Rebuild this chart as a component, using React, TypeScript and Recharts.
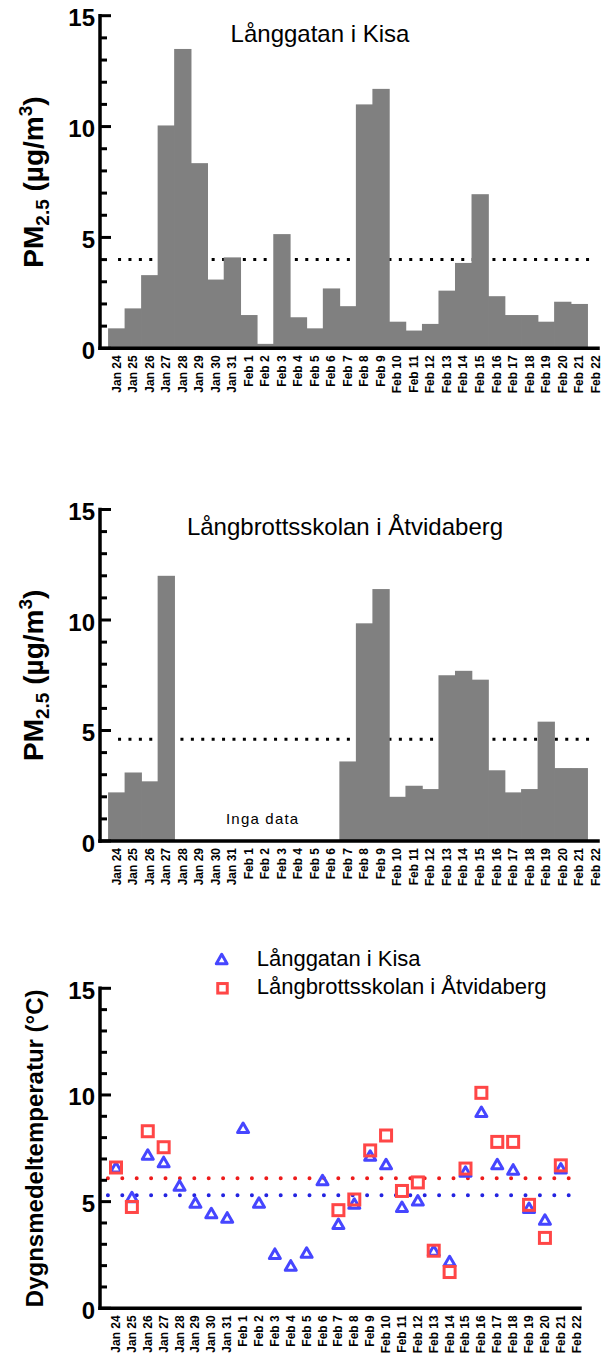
import React from 'react';
import { ComposedChart, Bar, LineChart, Line, XAxis, YAxis, ReferenceLine } from 'recharts';

const FONT = '"Liberation Sans", Arial, Helvetica, sans-serif';

// dates on the x axis (Feb 22 has no value, only a label)
const dates = [
  'Jan 24', 'Jan 25', 'Jan 26', 'Jan 27', 'Jan 28', 'Jan 29', 'Jan 30', 'Jan 31',
  'Feb 1', 'Feb 2', 'Feb 3', 'Feb 4', 'Feb 5', 'Feb 6', 'Feb 7', 'Feb 8', 'Feb 9',
  'Feb 10', 'Feb 11', 'Feb 12', 'Feb 13', 'Feb 14', 'Feb 15', 'Feb 16', 'Feb 17',
  'Feb 18', 'Feb 19', 'Feb 20', 'Feb 21', 'Feb 22',
];

// PM2.5 daily means (µg/m3)
const kisaPm = [
  0.9, 1.8, 3.3, 10.05, 13.5, 8.35, 3.1, 4.1,
  1.5, 0.2, 5.15, 1.4, 0.9, 2.7, 1.9, 11.0, 11.7, 1.2,
  0.8, 1.1, 2.6, 3.85, 6.95, 2.35, 1.5, 1.5, 1.2, 2.1, 2.0, null,
];
const atvPm = [
  2.2, 3.1, 2.7, 12.0, null, null, null, null,
  null, null, null, null, null, null, 3.6, 9.85, 11.4, 2.0,
  2.5, 2.35, 7.5, 7.7, 7.3, 3.2, 2.2, 2.35, 5.4, 3.3, 3.3, null,
];

// daily mean temperature (°C)
const kisaTemp = [
  6.6, 5.2, 7.2, 6.85, 5.75, 4.95, 4.45, 4.25,
  8.45, 4.95, 2.55, 2.0, 2.6, 6.0, 3.95, 4.9, 7.15, 6.75,
  4.75, 5.05, 2.7, 2.2, 6.4, 9.2, 6.75, 6.5, 4.7, 4.15, 6.55, null,
];
const atvTemp = [
  6.6, 4.75, 8.3, 7.55, null, null, null, null,
  null, null, null, null, null, null, 4.6, 5.1, 7.4, 8.1,
  5.5, 5.9, 2.7, 1.7, 6.55, 10.1, 7.8, 7.8, 4.85, 3.3, 6.7, null,
];

// dotted levels
const kisaPmLevel = 4.0;
const atvPmLevel = 4.6;
const kisaTempMean = 5.3;
const atvTempMean = 6.1;

const yTicks = [0, 1, 2, 3, 4, 5, 6, 7, 8, 9, 10, 11, 12, 13, 14, 15];

const kisaPmData = dates.map((d, i) => ({ date: d, pm: kisaPm[i], level: kisaPmLevel }));
const atvPmData = dates.map((d, i) => ({ date: d, pm: atvPm[i], level: atvPmLevel }));
const tempData = dates.map((d, i) => ({ date: d, kisa: kisaTemp[i], atv: atvTemp[i] }));

const BLUE = '#4646ff';
const RED = '#ff4646';
const BAND = 16.52;

const XTick = (props: any) => {
  const { x, y, payload } = props;
  return (
    <text
      x={x}
      y={y}
      transform={`rotate(-90 ${x} ${y})`}
      textAnchor="end"
      dominantBaseline="central"
      fontSize={12}
      fontWeight="bold"
      fontFamily={FONT}
      fill="#000"
    >
      {payload.value}
    </text>
  );
};

const YTick = (props: any) => {
  const { x, y, payload } = props;
  const major = payload.value % 5 === 0;
  return (
    <g>
      <line x1={x - 1} y1={y} x2={x + (major ? 11 : 7)} y2={y} stroke="#000" strokeWidth={3} />
      {major && (
        <text
          x={x - 5}
          y={y + 2}
          textAnchor="end"
          dominantBaseline="central"
          fontSize={24}
          fontWeight="bold"
          fontFamily={FONT}
          fill="#000"
        >
          {payload.value}
        </text>
      )}
    </g>
  );
};

const PmTitle = ({ cy }: { cy: number }) => (
  <text
    transform={`translate(43,${cy}) rotate(-90)`}
    textAnchor="middle"
    fontSize={28}
    fontWeight="bold"
    fontFamily={FONT}
    fill="#000"
  >
    PM<tspan fontSize={19} dy={6}>2.5</tspan>
    <tspan dy={-6}> (µg/m</tspan>
    <tspan fontSize={19} dy={-11}>3</tspan>
    <tspan dy={11}>)</tspan>
  </text>
);

const PanelLabels = (props: any) => {
  const { cy, title, titleX, titleY, noData } = props;
  return (
    <g>
      <PmTitle cy={cy} />
      <text x={titleX} y={titleY} textAnchor="middle" fontSize={24} fontFamily={FONT} fill="#000">
        {title}
      </text>
      {noData && (
        <text x={226} y={344} fontSize={15} letterSpacing={1.2} fontFamily={FONT} fill="#000">
          Inga data
        </text>
      )}
    </g>
  );
};

const Triangle = ({ cx, cy, w = 5.5, top = 5, bot = 4.5 }: any) => (
  <path
    d={`M${cx},${cy - top} L${cx + w},${cy + bot} L${cx - w},${cy + bot} Z`}
    fill="none"
    stroke={BLUE}
    strokeWidth={3}
    strokeLinejoin="round"
  />
);

const Square = ({ cx, cy, s = 11 }: any) => (
  <rect x={cx - s / 2} y={cy - s / 2} width={s} height={s} fill="none" stroke={RED} strokeWidth={3} />
);

const TempLabels = () => (
  <g>
    <text
      transform="translate(43,218.3) rotate(-90)"
      textAnchor="middle"
      fontSize={24}
      fontWeight="bold"
      fontFamily={FONT}
      fill="#000"
    >
      Dygnsmedeltemperatur (°C)
    </text>
    <Triangle cx={221.7} cy={29.3} w={5.4} top={5} bot={4.4} />
    <text x={256.7} y={36} fontSize={22} fontFamily={FONT} fill="#000">
      Långgatan i Kisa
    </text>
    <Square cx={222.5} cy={58.3} s={9.5} />
    <text x={256.7} y={64.3} fontSize={22} fontFamily={FONT} fill="#000">
      Långbrottsskolan i Åtvidaberg
    </text>
  </g>
);

const renderTriangle = (p: any) => {
  if (p.value == null || p.cy == null || isNaN(p.cy)) return <g key={`t-${p.index}`} />;
  return <Triangle key={`t-${p.index}`} cx={p.cx} cy={p.cy} />;
};

const renderSquare = (p: any) => {
  if (p.value == null || p.cy == null || isNaN(p.cy)) return <g key={`s-${p.index}`} />;
  return <Square key={`s-${p.index}`} cx={p.cx} cy={p.cy} />;
};

// bars fill their whole day: draw each one band wide around its centre, overlapping a little
const BarShape = (p: any) => {
  if (p.height == null || !(p.height > 0)) return <g />;
  const mid = p.x + p.width / 2;
  return (
    <rect
      x={mid - BAND / 2 - 0.4}
      y={p.y}
      width={BAND + 0.8}
      height={p.height}
      fill="#808080"
    />
  );
};

const axisLine = { stroke: '#000', strokeWidth: 3.5, strokeLinecap: 'square' as const };

const PmPanel = ({ data, height, top, xHeight, labels }: any) => (
  <ComposedChart
    width={603}
    height={height}
    data={data}
    margin={{ top, right: 5, bottom: 0, left: 0 }}
    barCategoryGap={0}
    barGap={0}
  >
    <XAxis
      dataKey="date"
      interval={0}
      tickLine={false}
      tickSize={0}
      tickMargin={7}
      height={xHeight}
      axisLine={axisLine}
      tick={(p: any) => <XTick {...p} />}
      padding={{ left: 8.3, right: -5.9 }}
    />
    <YAxis
      width={100}
      domain={[0, 15]}
      ticks={yTicks}
      interval={0}
      tickLine={false}
      tickSize={0}
      tickMargin={0}
      axisLine={axisLine}
      tick={(p: any) => <YTick {...p} />}
      label={labels}
    />
    {/* dotted level, drawn under the bars */}
    <Line
      dataKey="level"
      stroke="#000"
      strokeWidth={3}
      strokeDasharray="3 7.4"
      strokeDashoffset={-1.5}
      dot={false}
      activeDot={false}
      isAnimationActive={false}
      zIndex={100}
    />
    <Bar
      dataKey="pm"
      fill="#808080"
      barSize={BAND}
      shape={(p: any) => <BarShape {...p} />}
      isAnimationActive={false}
      zIndex={300}
    />
  </ComposedChart>
);

export default function App() {
  return (
    <div style={{ position: 'absolute', left: 0, top: 0, width: 603, height: 1357, background: '#fff' }}>
      <div style={{ position: 'absolute', left: 0, top: 0 }}>
        <PmPanel
          data={kisaPmData}
          height={400}
          top={15.7}
          xHeight={51.7}
          labels={<PanelLabels cy={182} title="Långgatan i Kisa" titleX={320} titleY={41.5} />}
        />
      </div>
      <div style={{ position: 'absolute', left: 0, top: 480 }}>
        <PmPanel
          data={atvPmData}
          height={420}
          top={29.5}
          xHeight={59}
          labels={
            <PanelLabels cy={195.3} title="Långbrottsskolan i Åtvidaberg" titleX={345} titleY={55} noData />
          }
        />
      </div>
      <div style={{ position: 'absolute', left: 0, top: 930 }}>
        <LineChart width={603} height={427} data={tempData} margin={{ top: 58.3, right: 23, bottom: 0, left: 0 }}>
          <XAxis
            dataKey="date"
            interval={0}
            tickLine={false}
            tickSize={0}
            tickMargin={7}
            height={48.7}
            axisLine={axisLine}
            tick={(p: any) => <XTick {...p} />}
            padding={{ left: 16, right: 3.3 }}
          />
          <YAxis
            width={100}
            domain={[0, 15]}
            ticks={yTicks}
            interval={0}
            tickLine={false}
            tickSize={0}
            tickMargin={0}
            axisLine={axisLine}
            tick={(p: any) => <YTick {...p} />}
            label={<TempLabels />}
          />
          <ReferenceLine
            y={atvTempMean}
            stroke="#ee1c1c"
            strokeWidth={4}
            strokeLinecap="round"
            strokeDasharray="0 14.4"
            strokeDashoffset={6.5}
          />
          <ReferenceLine
            y={kisaTempMean}
            stroke="#2323e0"
            strokeWidth={4}
            strokeLinecap="round"
            strokeDasharray="0 14.4"
            strokeDashoffset={6.5}
          />
          <Line
            dataKey="kisa"
            stroke="none"
            dot={renderTriangle}
            activeDot={false}
            isAnimationActive={false}
          />
          <Line
            dataKey="atv"
            stroke="none"
            dot={renderSquare}
            activeDot={false}
            isAnimationActive={false}
          />
        </LineChart>
      </div>
    </div>
  );
}
